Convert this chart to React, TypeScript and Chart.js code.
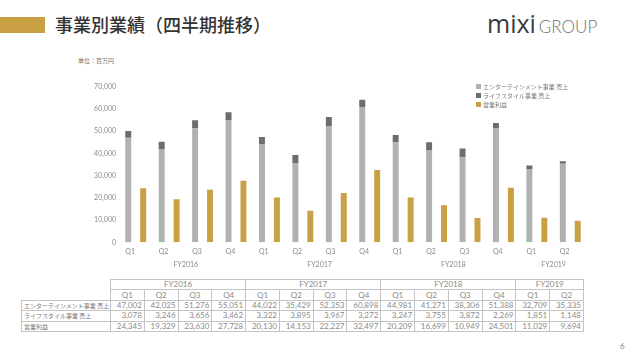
import React, { useEffect, useRef } from "react";
import { Chart, registerables } from "chart.js";

Chart.register(...registerables);

const quarters = ["Q1", "Q2", "Q3", "Q4", "Q1", "Q2", "Q3", "Q4", "Q1", "Q2", "Q3", "Q4", "Q1", "Q2"];
const fiscalYears = ["FY2016", "FY2017", "FY2018", "FY2019"];
const quartersPerYear = [4, 4, 4, 2];
const entertainmentSales = [47002, 42025, 51276, 55051, 44022, 35429, 52353, 60898, 44981, 41271, 38306, 51388, 32709, 35335];
const lifestyleSales = [3078, 3246, 3656, 3462, 3322, 3895, 3967, 3272, 3247, 3755, 3872, 2269, 1851, 1148];
const operatingProfit = [24345, 19329, 23630, 27728, 20130, 14153, 22227, 32497, 20209, 16699, 10949, 24501, 11029, 9694];
const seriesNames = ["エンターテインメント事業 売上", "ライフスタイル事業 売上", "営業利益"];
const yMax = 70000;
const yStep = 10000;

const COLORS = ["#b1b1b1", "#6d6d6d", "#c9a044"];
const NUM_FONT = "Lato, 'Liberation Sans', sans-serif";
const JP_FONT = "'Noto Sans CJK JP', 'Noto Sans', sans-serif";

const fmt = (v: number) => v.toLocaleString("en-US");

const fyPlugin = {
  id: "fyLabels",
  afterDraw(chart: any) {
    const x = chart.scales.x;
    const ctx = chart.ctx;
    ctx.save();
    ctx.font = `7px ${NUM_FONT}`;
    ctx.fillStyle = "#8a8a8a";
    ctx.textAlign = "center";
    ctx.textBaseline = "middle";
    let start = 0;
    fiscalYears.forEach((fy, i) => {
      const n = quartersPerYear[i];
      const mid = start + (n - 1) / 2;
      ctx.fillText(fy, x.getPixelForValue(mid), chart.chartArea.bottom + 22);
      start += n;
    });
    ctx.restore();
  },
};

function BarChart() {
  const ref = useRef<HTMLCanvasElement | null>(null);
  useEffect(() => {
    if (!ref.current) return;
    const chart = new Chart(ref.current, {
      type: "bar",
      data: {
        labels: quarters,
        datasets: [
          { label: seriesNames[0], data: entertainmentSales, backgroundColor: COLORS[0], stack: "sales", categoryPercentage: 0.67, barPercentage: 0.8 },
          { label: seriesNames[1], data: lifestyleSales, backgroundColor: COLORS[1], stack: "sales", categoryPercentage: 0.67, barPercentage: 0.8 },
          { label: seriesNames[2], data: operatingProfit, backgroundColor: COLORS[2], stack: "profit", categoryPercentage: 0.67, barPercentage: 0.8 },
        ],
      },
      options: {
        animation: false,
        responsive: false,
        maintainAspectRatio: false,
        layout: { padding: { top: 16.7, right: 13, bottom: 0, left: 0 } },
        plugins: { legend: { display: false }, tooltip: { enabled: false } },
        scales: {
          x: {
            stacked: false,
            grid: { display: false, drawTicks: false },
            border: { display: false },
            ticks: { padding: 5, labelOffset: -5.6, color: "#8a8a8a", font: { size: 7, family: NUM_FONT }, maxRotation: 0, autoSkip: false },
            afterFit: (s: any) => { s.height = 32.7; },
          },
          y: {
            stacked: true,
            min: 0,
            max: yMax,
            grid: { display: false, drawTicks: false },
            border: { display: false },
            ticks: { stepSize: yStep, padding: 3, color: "#8a8a8a", font: { size: 7, family: NUM_FONT }, callback: (v: any) => fmt(Number(v)) },
            afterFit: (s: any) => { s.width = 40; },
          },
        },
      },
      plugins: [fyPlugin],
    });
    return () => chart.destroy();
  }, []);
  return <canvas ref={ref} width={521} height={205} style={{ position: "absolute", left: 79, top: 70, width: 521, height: 205 }} />;
}

const cell: React.CSSProperties = { border: "1px solid #c4c4c4", padding: 0, height: 9.4, lineHeight: "9px", color: "#8a8a8a", fontFamily: NUM_FONT, fontSize: 8, overflow: "hidden", whiteSpace: "nowrap", boxSizing: "border-box" };

function DataTable() {
  const rows = [entertainmentSales, lifestyleSales, operatingProfit];
  return (
    <table style={{ position: "absolute", left: 21, top: 279, width: 562, borderCollapse: "collapse", tableLayout: "fixed" }}>
      <colgroup>
        <col style={{ width: 89 }} />
        {quarters.map((_, i) => <col key={i} style={{ width: 473 / 14 }} />)}
      </colgroup>
      <tbody>
        <tr style={{ height: 10.4 }}>
          <td rowSpan={2} style={{ ...cell, border: "none", borderRight: "1px solid #c4c4c4" }} />
          {fiscalYears.map((fy, i) => (
            <td key={fy} colSpan={quartersPerYear[i]} style={{ ...cell, textAlign: "center" }}>{fy}</td>
          ))}
        </tr>
        <tr style={{ height: 10.4 }}>
          {quarters.map((q, i) => <td key={i} style={{ ...cell, textAlign: "center" }}>{q}</td>)}
        </tr>
        {rows.map((r, ri) => (
          <tr key={ri} style={{ height: 10.4 }}>
            <td style={{ ...cell, fontFamily: JP_FONT, fontSize: 6, color: "#777", paddingLeft: 2, textAlign: "left" }}>{seriesNames[ri]}</td>
            {r.map((v, i) => <td key={i} style={{ ...cell, textAlign: "right", paddingRight: 2 }}>{fmt(v)}</td>)}
          </tr>
        ))}
      </tbody>
    </table>
  );
}

function Legend() {
  return (
    <div style={{ position: "absolute", left: 476, top: 82 }}>
      {seriesNames.map((n, i) => (
        <div key={n} style={{ display: "flex", alignItems: "center", height: 9, fontFamily: JP_FONT, fontSize: 6, color: "#777", whiteSpace: "nowrap" }}>
          <span style={{ display: "inline-block", width: 5, height: 5, background: COLORS[i], marginRight: 2 }} />
          {n}
        </div>
      ))}
    </div>
  );
}

export default function App() {
  useEffect(() => {
    document.body.style.margin = "0";
  }, []);
  return (
    <div style={{ position: "relative", width: 640, height: 357, background: "#fff", overflow: "hidden" }}>
      <div style={{ position: "absolute", left: 0, top: 17, width: 45, height: 16, background: "#c9a044" }} />
      <div style={{ position: "absolute", left: 55, top: 15, fontFamily: JP_FONT, fontSize: 18, lineHeight: "18px", fontWeight: 500, color: "#333", whiteSpace: "nowrap" }}>事業別業績（四半期推移）</div>
      <div style={{ position: "absolute", left: 487, top: 10, whiteSpace: "nowrap", lineHeight: "26px" }}>
        <span style={{ fontFamily: "'Open Sans', Lato, sans-serif", fontSize: 25, color: "#3a3a3a" }}>mixi</span>
        <span style={{ fontFamily: "Lato, 'Open Sans', sans-serif", fontSize: 17, color: "#707070", fontWeight: 300, marginLeft: 3 }}>GROUP</span>
      </div>
      <div style={{ position: "absolute", left: 78, top: 57, fontFamily: JP_FONT, fontSize: 6, lineHeight: "8px", color: "#777", whiteSpace: "nowrap" }}>単位：百万円</div>
      <BarChart />
      <Legend />
      <DataTable />
      <div style={{ position: "absolute", left: 620, top: 341, fontFamily: NUM_FONT, fontSize: 8, color: "#888" }}>6</div>
    </div>
  );
}
